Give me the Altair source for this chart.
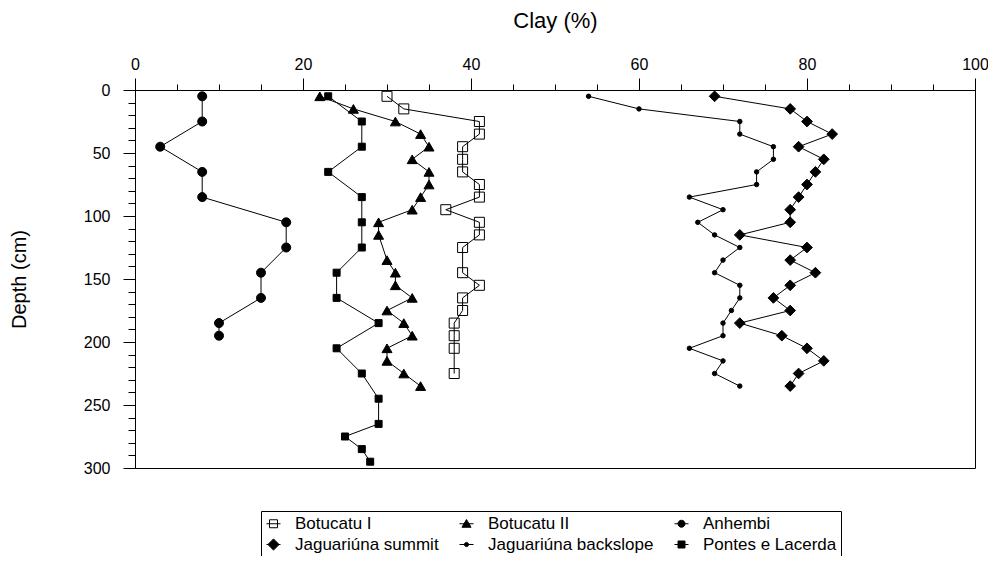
import altair as alt
import pandas as pd

FONT = "Liberation Sans"

series_names = ["Botucatu I", "Botucatu II", "Anhembi",
                "Jaguariúna summit", "Jaguariúna backslope", "Pontes e Lacerda"]

bot1_depth = [5, 15, 25, 35, 45, 55, 65, 75, 85, 95, 105, 115, 125, 145, 155, 165, 175, 185, 195, 205, 225]
bot1_clay = [30, 32, 41, 41, 39, 39, 39, 41, 41, 37, 41, 41, 39, 39, 41, 39, 39, 38, 38, 38, 38]

bot2_depth = [5, 15, 25, 35, 45, 55, 65, 75, 85, 95, 105, 115, 135, 145, 155, 165, 175, 185, 195, 205, 215, 225, 235]
bot2_clay = [22, 26, 31, 34, 35, 33, 35, 35, 34, 33, 29, 29, 30, 31, 31, 33, 30, 32, 33, 30, 30, 32, 34]

anh_depth = [5, 25, 45, 65, 85, 105, 125, 145, 165, 185, 195]
anh_clay = [8, 8, 3, 8, 8, 18, 18, 15, 15, 10, 10]

sum_depth = [5, 15, 25, 35, 45, 55, 65, 75, 85, 95, 105, 115, 125, 135, 145, 155, 165, 175, 185, 195, 205, 215, 225, 235]
sum_clay = [69, 78, 80, 83, 79, 82, 81, 80, 79, 78, 78, 72, 80, 78, 81, 78, 76, 78, 72, 77, 80, 82, 79, 78]

back_depth = [5, 15, 25, 35, 45, 55, 65, 75, 85, 95, 105, 115, 125, 135, 145, 155, 165, 175, 185, 195, 205, 215, 225, 235]
back_clay = [54, 60, 72, 72, 76, 76, 74, 74, 66, 70, 67, 69, 72, 70, 69, 72, 72, 71, 70, 70, 66, 70, 69, 72]

pl_depth = [5, 25, 45, 65, 85, 105, 125, 145, 165, 185, 205, 225, 245, 265, 275, 285, 295]
pl_clay = [23, 27, 27, 23, 27, 27, 27, 24, 24, 29, 24, 27, 29, 29, 25, 27, 28]

x_major_ticks = [0, 20, 40, 60, 80, 100]
x_minor_ticks = [5, 10, 15, 25, 30, 35, 45, 50, 55, 65, 70, 75, 85, 90, 95]
y_major_ticks = [0, 50, 100, 150, 200, 250, 300]
y_minor_ticks = [10, 20, 30, 40, 60, 70, 80, 90, 110, 120, 130, 140, 160, 170, 180, 190,
                 210, 220, 230, 240, 260, 270, 280, 290]

frames = [
    pd.DataFrame({"series": series_names[0], "depth": bot1_depth, "clay": bot1_clay}),
    pd.DataFrame({"series": series_names[1], "depth": bot2_depth, "clay": bot2_clay}),
    pd.DataFrame({"series": series_names[2], "depth": anh_depth, "clay": anh_clay}),
    pd.DataFrame({"series": series_names[3], "depth": sum_depth, "clay": sum_clay}),
    pd.DataFrame({"series": series_names[4], "depth": back_depth, "clay": back_clay}),
    pd.DataFrame({"series": series_names[5], "depth": pl_depth, "clay": pl_clay}),
]
df = pd.concat(frames, ignore_index=True)

W, H = 840, 378

common_axis = dict(
    labelFont=FONT, labelFontSize=16, labelColor="black",
    labelFlush=False, labelOverlap=False, labelBound=False,
    titleFont=FONT, titleFontWeight="normal", titleColor="black",
    domainColor="black", domainWidth=1, tickColor="black", tickWidth=1, grid=False,
)

x_major = alt.Axis(
    orient="top", values=x_major_ticks, title="Clay (%)", tickSize=12, labelPadding=6,
    titleFontSize=22, titleX=W / 2, titleY=-63, titleBaseline="alphabetic", titleAlign="center",
    **common_axis,
)
x_minor = alt.Axis(
    orient="top", values=x_minor_ticks, title=None, tickSize=6, labels=False, domain=False,
    tickColor="black", tickWidth=1, grid=False,
)
y_major = alt.Axis(
    orient="left", values=y_major_ticks, title="Depth (cm)", tickSize=12, labelPadding=13,
    titleFontSize=20, titleAngle=270, titleX=-110, titleY=H / 2,
    titleBaseline="alphabetic", titleAlign="center",
    **common_axis,
)
y_minor = alt.Axis(
    orient="left", values=y_minor_ticks, title=None, tickSize=7, labels=False, domain=False,
    tickColor="black", tickWidth=1, grid=False,
)

x_scale = alt.Scale(domain=[0, 100], nice=False, zero=False)
y_scale = alt.Scale(domain=[0, 300], nice=False, zero=False, reverse=True)


def enc(chart, xa=None, ya=None):
    return chart.encode(
        x=alt.X("clay:Q", scale=x_scale, axis=xa),
        y=alt.Y("depth:Q", scale=y_scale, axis=ya),
    )


root = alt.Chart(df)

major_layer = enc(root.transform_filter("false").mark_point(opacity=0), x_major, y_major)
minor_layer = enc(root.transform_filter("false").mark_point(opacity=0), x_minor, y_minor)

lines = enc(root.mark_line(color="black", strokeWidth=1)).encode(
    detail="series:N", order=alt.Order("depth:Q")
)

marker_styles = [
    dict(shape="square", filled=False, size=100, fill="transparent"),
    dict(shape="triangle-up", filled=True, size=100, fill="black"),
    dict(shape="circle", filled=True, size=81, fill="black"),
    dict(shape="diamond", filled=True, size=115, fill="black"),
    dict(shape="circle", filled=True, size=20, fill="black"),
    dict(shape="square", filled=True, size=49, fill="black"),
]

point_layers = []
for name, st in zip(series_names, marker_styles):
    point_layers.append(
        enc(root.transform_filter(alt.datum.series == name).mark_point(
            shape=st["shape"], filled=st["filled"], size=st["size"], fill=st["fill"],
            stroke="black", strokeWidth=1, opacity=1,
        ))
    )

# legend order (filled column by column): col1, col1, col2, col2, col3, col3
legend_order = ["Botucatu I", "Jaguariúna summit", "Botucatu II",
                "Jaguariúna backslope", "Anhembi", "Pontes e Lacerda"]
legend_paths = [
    "M-1,0H1M-0.57,-0.57H0.57V0.57H-0.57Z",
    "M-1,0H1M0,-0.8L0.8,0L0,0.8L-0.8,0Z",
    "M-1,0H1M0,-0.6L0.65,0.5L-0.65,0.5Z",
    "M-1,0H1M0.3,0A0.3,0.3,0,1,1,-0.3,0A0.3,0.3,0,1,1,0.3,0Z",
    "M-1,0H1M0.5,0A0.5,0.5,0,1,1,-0.5,0A0.5,0.5,0,1,1,0.5,0Z",
    "M-1,0H1M-0.5,-0.5H0.5V0.5H-0.5Z",
]
legend_fills = ["transparent", "black", "black", "black", "black", "black"]
legend_strokes = ["black", "black", "black", "black", "black", "black"]

leg = alt.Legend(
    title=None, orient="none", legendX=126, legendY=421, columns=3,
    strokeColor="black", padding=4, columnPadding=18, rowPadding=3,
    labelFont=FONT, labelFontSize=17, labelColor="black", labelLimit=400, labelOffset=13,
    symbolStrokeColor="black", symbolStrokeWidth=1, symbolSize=196,
)

legend_layer = enc(root.transform_filter("false").mark_point(
    filled=True, size=196, stroke="black", strokeWidth=1, opacity=1
)).encode(
    shape=alt.Shape("series:N", scale=alt.Scale(domain=legend_order, range=legend_paths), legend=leg),
    fill=alt.Fill("series:N", scale=alt.Scale(domain=legend_order, range=legend_fills), legend=leg),
    stroke=alt.Stroke("series:N", scale=alt.Scale(domain=legend_order, range=legend_strokes), legend=leg),
)

chart = alt.layer(major_layer, minor_layer, lines, *point_layers, legend_layer).resolve_axis(
    x="independent", y="independent"
).properties(
    width=W, height=H,
    padding={"left": 127, "top": 82, "right": 13, "bottom": 88},
    autosize=alt.AutoSizeParams(type="none"),
).configure_view(stroke="black", strokeWidth=1)

chart.save("out.html", embed_options={"renderer": "svg", "actions": False})
